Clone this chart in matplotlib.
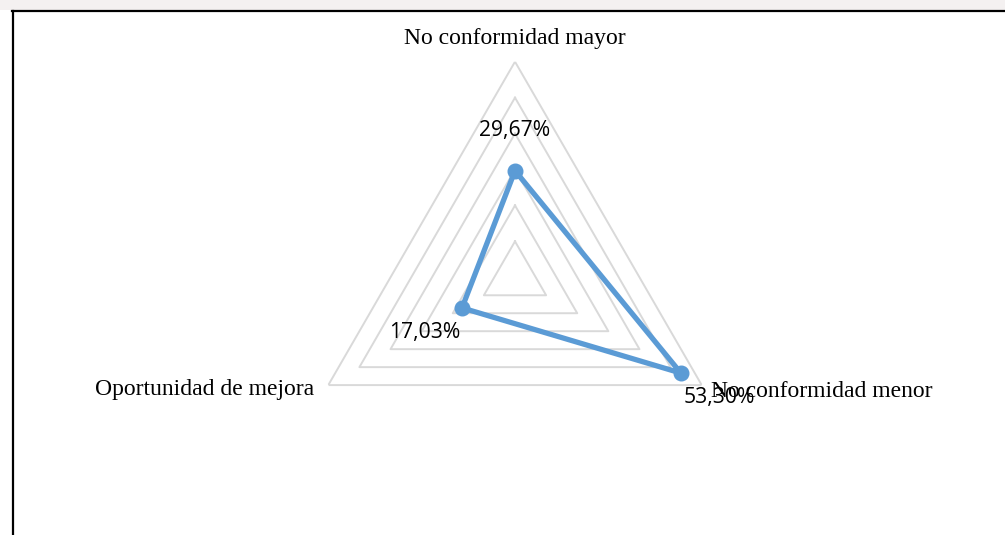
import numpy as np
import matplotlib
matplotlib.use('Agg')
from matplotlib import pyplot as plt
from matplotlib.patches import Rectangle
from matplotlib.lines import Line2D

categories = ['No conformidad mayor', 'No conformidad menor', 'Oportunidad de mejora']
values = [0.2967, 0.5330, 0.1703]
value_labels = ['29,67%', '53,30%', '17,03%']
grid_levels = [0.1, 0.2, 0.3, 0.4, 0.5, 0.6]

W, H = 1005, 535
fig = plt.figure(figsize=(W / 100, H / 100), dpi=100)
fig.patch.set_facecolor('white')

# pale slide strip above the frame + black frame lines
fig.add_artist(Rectangle((0, 1 - 10 / H), 1, 10 / H, transform=fig.transFigure,
                         facecolor='#f4f1f1', edgecolor='none'))
fig.add_artist(Line2D([12 / W, 1], [1 - 11 / H, 1 - 11 / H], transform=fig.transFigure,
                      color='black', lw=1.6))
fig.add_artist(Line2D([12.5 / W, 12.5 / W], [0, 1 - 11 / H], transform=fig.transFigure,
                      color='black', lw=1.6))

cx, cy, R = 515, 277.3, 215.6
ax = fig.add_axes([(cx - R) / W, (H - cy - R) / H, 2 * R / W, 2 * R / H], projection='polar')
ax.set_theta_offset(np.pi / 2)
ax.set_theta_direction(-1)
ax.set_ylim(0, 0.6)
ax.grid(False)
ax.spines['polar'].set_visible(False)
ax.set_xticks([])
ax.set_yticks([])
ax.patch.set_alpha(0)

angles = np.arange(len(categories)) * 2 * np.pi / len(categories)
ang_closed = np.append(angles, angles[0])

for lev in grid_levels:
    ax.plot(ang_closed, [lev] * len(ang_closed), color='#d9d9d9', lw=1.4, zorder=1)

vals_closed = values + values[:1]
ax.plot(ang_closed, vals_closed, color='#5b9bd5', lw=3.8, zorder=3,
        solid_joinstyle='round')
ax.plot(angles, values, 'o', color='#5b9bd5', ms=10.5, zorder=4)

# data labels
lab_off = [(0, 29), (28, -17.5), (-27, -17.5)]
for a, v, t, off in zip(angles, values, value_labels, lab_off):
    ax.annotate(t, (a, v), xytext=off, textcoords='offset points',
                ha='center', va='center', fontsize=15.2, family='Open Sans',
                color='black', zorder=5, annotation_clip=False)

# category labels
cat_off = [(0, 17), (7, -4.5), (-10.5, -3.5)]
cat_ha = ['center', 'left', 'right']
for a, c, off, ha in zip(angles, categories, cat_off, cat_ha):
    ax.annotate(c, (a, 0.6), xytext=off, textcoords='offset points',
                ha=ha, va='center', fontsize=17, family='Liberation Serif',
                color='black', zorder=5, annotation_clip=False)

plt.savefig('out.png', dpi=100)
